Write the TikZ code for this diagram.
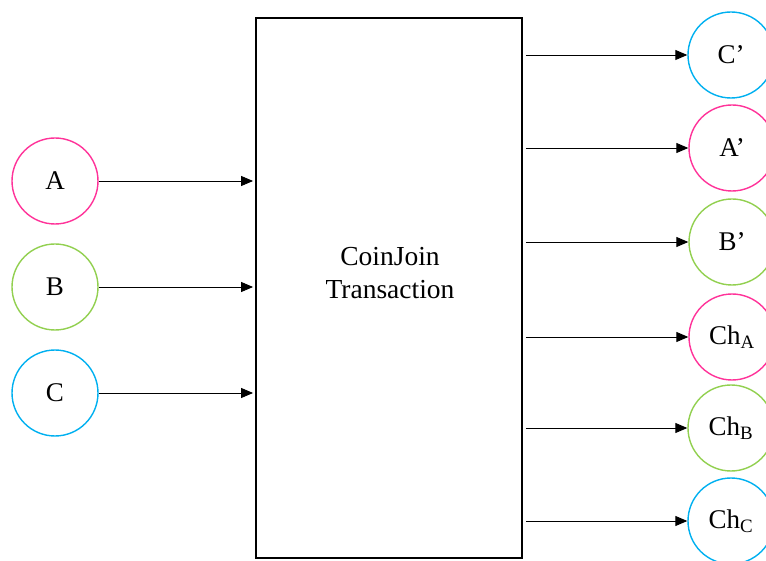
\documentclass[tikz,border=0pt]{standalone}
\usepackage{fontspec}
\setmainfont{Liberation Serif}
\usetikzlibrary{arrows.meta}
\definecolor{cjpink}{HTML}{FF3399}
\definecolor{cjgreen}{HTML}{92D050}
\definecolor{cjblue}{HTML}{00B0F0}

\tikzset{
  coin/.style={circle,draw=#1,line width=1.4pt,minimum size=86pt,inner sep=0pt,
    font=\fontsize{27}{30}\selectfont},
  arr/.style={-{Triangle[length=12pt,width=10pt]},line width=0.9pt},
}

\begin{document}
\begin{tikzpicture}[x=1pt,y=-1pt]
  \useasboundingbox (0,0) rectangle (766,561);
  \clip (0,0) rectangle (766,561);
  % the transaction
  \node[draw,line width=1.8pt,minimum width=266pt,minimum height=540pt,inner sep=0pt] (tx) at (389,288) {};
  \node[align=center,font=\fontsize{27.5}{33}\selectfont] (txlabel) at (390,273) {CoinJoin\\Transaction};
  % inputs
  \node[coin=cjpink]  (a) at (55,181) {A};
  \node[coin=cjgreen] (b) at (55,287) {B};
  \node[coin=cjblue]  (c) at (55,393) {C};
  % outputs
  \node[coin=cjblue]  (cp) at (731,55)  {C’};
  \node[coin=cjpink]  (ap) at (732,148) {A’};
  \node[coin=cjgreen] (bp) at (732,242) {B’};
  \node[coin=cjpink]  (cha) at (732,337) {Ch\textsubscript{A}};
  \node[coin=cjgreen] (chb) at (731,428) {Ch\textsubscript{B}};
  \node[coin=cjblue]  (chc) at (731,521) {Ch\textsubscript{C}};

  \foreach \n in {a,b,c}
    \draw[arr] (\n.east) -- ([xshift=-2pt]tx.west |- \n.east);
  \foreach \n in {cp,ap,bp,cha,chb,chc}
    \draw[arr] ([xshift=3pt]tx.east |- \n.west) -- (\n.west);
\end{tikzpicture}
\end{document}
